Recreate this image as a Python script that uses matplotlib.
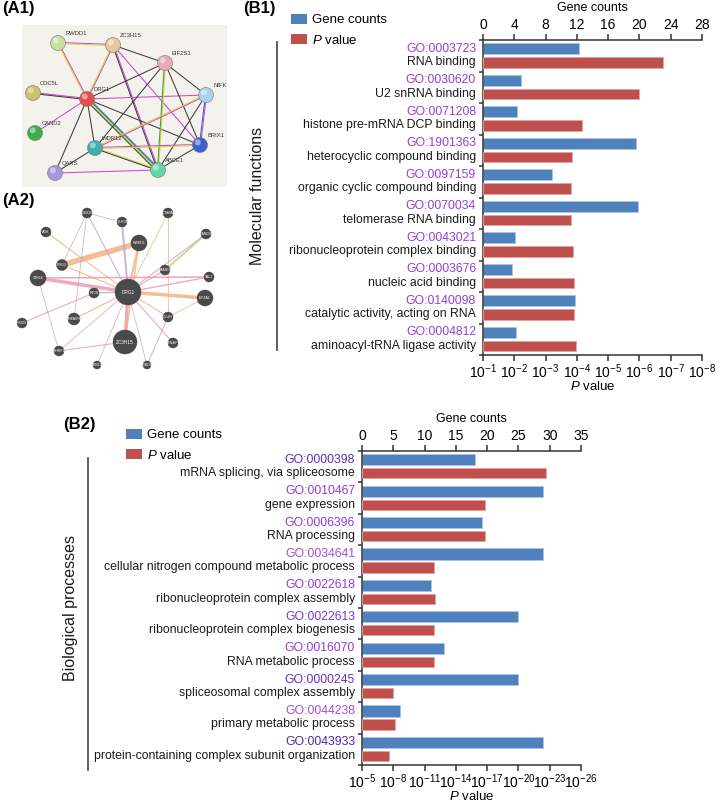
import numpy as np
import matplotlib
matplotlib.use("Agg")
import matplotlib.pyplot as plt
from matplotlib.patches import Rectangle, Circle
from matplotlib.lines import Line2D
from matplotlib.ticker import NullLocator

plt.rcParams['font.family'] = ['Liberation Sans', 'DejaVu Sans']
plt.rcParams['mathtext.fontset'] = 'custom'
plt.rcParams['mathtext.rm'] = 'Liberation Sans'
plt.rcParams['mathtext.it'] = 'Liberation Sans:italic'
plt.rcParams['mathtext.bf'] = 'Liberation Sans:bold'

W, H = 720, 802

# ---------------- data: molecular functions (B1) ----------------
mf_go = ["GO:0003723", "GO:0030620", "GO:0071208", "GO:1901363", "GO:0097159",
         "GO:0070034", "GO:0043021", "GO:0003676", "GO:0140098", "GO:0004812"]
mf_terms = ["RNA binding", "U2 snRNA binding", "histone pre-mRNA DCP binding",
            "heterocyclic compound binding", "organic cyclic compound binding",
            "telomerase RNA binding", "ribonucleoprotein complex binding",
            "nucleic acid binding", "catalytic activity, acting on RNA",
            "aminoacyl-tRNA ligase activity"]
mf_counts = [12.3, 4.9, 4.4, 19.6, 8.8, 19.8, 4.1, 3.7, 11.8, 4.2]
mf_pvalues = [1.8e-7, 1.0e-6, 7.1e-5, 1.45e-4, 1.5e-4, 1.5e-4, 1.35e-4, 1.26e-4, 1.2e-4, 1.1e-4]
mf_count_ticks = [0, 4, 8, 12, 16, 20, 24, 28]
mf_p_ticks = [1e-1, 1e-2, 1e-3, 1e-4, 1e-5, 1e-6, 1e-7, 1e-8]

# ---------------- data: biological processes (B2) ----------------
bp_go = ["GO:0000398", "GO:0010467", "GO:0006396", "GO:0034641", "GO:0022618",
         "GO:0022613", "GO:0016070", "GO:0000245", "GO:0044238", "GO:0043933"]
bp_terms = ["mRNA splicing, via spliceosome", "gene expression", "RNA processing",
            "cellular nitrogen compound metabolic process",
            "ribonucleoprotein complex assembly", "ribonucleoprotein complex biogenesis",
            "RNA metabolic process", "spliceosomal complex assembly",
            "primary metabolic process", "protein-containing complex subunit organization"]
bp_counts = [18.0, 29.0, 19.1, 29.0, 11.0, 25.0, 13.1, 25.0, 6.1, 29.0]
bp_pvalues = [2.5e-23, 1.6e-17, 1.5e-17, 1.2e-12, 1.0e-12, 1.3e-12, 1.3e-12, 1.0e-8, 6.3e-9, 2.8e-8]
bp_count_ticks = [0, 5, 10, 15, 20, 25, 30, 35]
bp_p_ticks = [1e-5, 1e-8, 1e-11, 1e-14, 1e-17, 1e-20, 1e-23, 1e-26]

mf_go_colors = ["#9140d4"] * 10
bp_go_colors = ["#5a2fb8", "#8a3ed6", "#8a3ed6", "#9a55dc", "#8a3ed6",
                "#7a36cc", "#8a3ed6", "#6230c0", "#9a55dc", "#4b2aa8"]

# ---------------- data: STRING network (A1) ----------------
a1_nodes = ["RWDD1", "ZC3H15", "EIF2S1", "CDC5L", "DRG1", "NIFK",
            "CAND2", "WDR12", "BRIX1", "QARS", "ABCE1"]
a1_x = [58, 113, 165, 33, 87, 206, 35, 95, 200, 55, 158]
a1_y = [43, 45, 63, 93, 99, 95, 133, 148, 145, 173, 170]
a1_colors = ["#c6e0a2", "#e6c7a0", "#e8aab4", "#c9c268", "#e0504f", "#a6d4f0",
             "#3fae45", "#3fb0ae", "#3f5fcf", "#a796e2", "#63d6a6"]
a1_src = ["RWDD1", "RWDD1", "ZC3H15", "ZC3H15", "ZC3H15", "ZC3H15", "CDC5L", "DRG1",
          "DRG1", "DRG1", "DRG1", "DRG1", "DRG1", "DRG1", "EIF2S1", "EIF2S1", "EIF2S1",
          "EIF2S1", "NIFK", "NIFK", "NIFK", "WDR12", "WDR12", "WDR12", "QARS", "BRIX1"]
a1_dst = ["ZC3H15", "DRG1", "DRG1", "EIF2S1", "ABCE1", "BRIX1", "DRG1", "NIFK",
          "EIF2S1", "CAND2", "WDR12", "QARS", "ABCE1", "BRIX1", "WDR12", "ABCE1", "BRIX1",
          "NIFK", "WDR12", "BRIX1", "ABCE1", "BRIX1", "ABCE1", "QARS", "ABCE1", "ABCE1"]
a1_kind = ["MY", "MY", "MY", "K", "MK", "M", "MK", "M",
           "K", "M", "K", "K", "BGYK", "K", "K", "YG", "K",
           "K", "MY", "MB", "K", "MY", "YK", "K", "M", "K"]
a1_edge_colors = {"M": "#cc48cc", "Y": "#d6d63c", "K": "#3c3c3c", "B": "#3a5fd8", "G": "#3fa03f"}

# ---------------- data: GeneMANIA network (A2) ----------------
a2_nodes = ["DRG1", "ZC3H15", "RWDD1", "STK16", "EIF4A1", "DDX20", "POLR3F", "KCNMA1",
            "AGK", "CAND2", "DRG2", "SAMD1", "TAL1", "RTCB", "TNFAIP8", "HSCB", "CLUH",
            "RTN4IP1", "PHRF1", "GRB10", "SRBD1"]
a2_x = [128, 125, 139, 38, 205, 87, 122, 168, 46, 206, 62, 165, 209, 94, 74, 22, 168,
        173, 59, 97, 147]
a2_y = [292, 342, 243, 278, 298, 213, 222, 213, 232, 234, 265, 270, 277, 293, 319, 323,
        317, 343, 351, 365, 365]
a2_r = [13, 12, 8, 8, 8, 5, 5, 5, 5, 5, 5.5, 5, 5, 5, 6, 5, 5, 5, 5, 4, 4]
a2_src = ["DRG2", "STK16", "DRG1", "ZC3H15", "RWDD1", "RWDD1", "CAND2", "DDX20", "POLR3F",
          "POLR3F", "KCNMA1", "AGK", "DRG2", "SAMD1", "TAL1", "RTCB", "HSCB", "TNFAIP8",
          "CLUH", "RTN4IP1", "PHRF1", "PHRF1", "GRB10", "SRBD1", "SRBD1", "EIF4A1",
          "STK16", "CAND2", "KCNMA1", "DDX20", "DDX20", "STK16"]
a2_dst = ["RWDD1", "DRG1", "EIF4A1", "DRG1", "DRG1", "ZC3H15", "SAMD1", "DRG1", "DRG1",
          "DDX20", "CLUH", "DRG1", "DRG1", "DRG1", "DRG1", "DRG1", "RTCB", "DRG1",
          "DRG1", "DRG1", "ZC3H15", "DRG1", "DRG1", "DRG1", "CLUH", "CLUH",
          "PHRF1", "DRG1", "DRG1", "DRG2", "TNFAIP8", "TAL1"]
a2_kind = ["O", "P", "O", "P", "O", "O", "G", "L", "L",
           "L", "O", "O", "O", "P", "P", "L", "P", "O",
           "O", "P", "P", "P", "P", "L", "L", "O",
           "L", "P", "O", "L", "L", "P"]
a2_width = [4.0, 2.5, 2.5, 2.5, 1.5, 1.0, 1.5, 0.8, 1.5,
            0.6, 0.6, 0.8, 0.8, 0.8, 1.0, 1.0, 0.8, 0.8,
            0.8, 0.8, 0.8, 0.6, 0.6, 0.6, 0.8, 0.6,
            0.6, 0.8, 0.6, 0.6, 0.6, 1.2]
a2_edge_colors = {"O": "#f2ad7a", "P": "#e897ab", "L": "#bea6d6", "G": "#b7d39d"}

BLUE = "#4f81bd"
RED = "#c0504d"
DARK = "#333333"

fig = plt.figure(figsize=(W / 100, H / 100), dpi=100)


def px_rect(x0, y0, x1, y1):
    return [x0 / W, 1 - y1 / H, (x1 - x0) / W, (y1 - y0) / H]


def fig_xy(x, y):
    return x / W, 1 - y / H


# ---------------- A1 ----------------
ax_a1 = fig.add_axes(px_rect(0, 20, 240, 190))
ax_a1.set_xlim(0, 240)
ax_a1.set_ylim(190, 20)
ax_a1.axis("off")
ax_a1.add_patch(Rectangle((22, 25), 205, 162, facecolor="#f4f2ed", edgecolor="none", zorder=0))
pos1 = {n: (x, y) for n, x, y in zip(a1_nodes, a1_x, a1_y)}
for s, d, k in zip(a1_src, a1_dst, a1_kind):
    p = np.array(pos1[s], float)
    q = np.array(pos1[d], float)
    v = q - p
    nrm = np.array([-v[1], v[0]]) / np.hypot(*v)
    offs = (np.arange(len(k)) - (len(k) - 1) / 2) * 1.1
    for c, o in zip(k, offs):
        ax_a1.plot([p[0] + nrm[0] * o, q[0] + nrm[0] * o], [p[1] + nrm[1] * o, q[1] + nrm[1] * o],
                   color=a1_edge_colors[c], lw=0.75, solid_capstyle="butt", zorder=1)
for n, x, y, c in zip(a1_nodes, a1_x, a1_y, a1_colors):
    ax_a1.add_patch(Circle((x, y), 7.5, facecolor=c, edgecolor="#777777", lw=0.4, zorder=3))
    ax_a1.add_patch(Circle((x - 2.2, y - 2.6), 3.0, facecolor="white", alpha=0.45,
                           edgecolor="none", zorder=4))
    ax_a1.text(x + 7, y - 8, n, fontsize=4.2, color="#333333", zorder=5)

# ---------------- A2 ----------------
ax_a2 = fig.add_axes(px_rect(0, 195, 240, 375))
ax_a2.set_xlim(0, 240)
ax_a2.set_ylim(375, 195)
ax_a2.axis("off")
pos2 = {n: (x, y) for n, x, y in zip(a2_nodes, a2_x, a2_y)}
for s, d, k, w in zip(a2_src, a2_dst, a2_kind, a2_width):
    ax_a2.plot([pos2[s][0], pos2[d][0]], [pos2[s][1], pos2[d][1]],
               color=a2_edge_colors[k], lw=w, alpha=0.8, solid_capstyle="butt", zorder=1)
for n, x, y, r in zip(a2_nodes, a2_x, a2_y, a2_r):
    ax_a2.add_patch(Circle((x, y), r, facecolor="#4a4a4a", edgecolor="#3a3a3a", lw=0.3, zorder=3))
    ax_a2.text(x, y, n, fontsize=2.6 if r < 9 else 3.4, color="white", ha="center",
               va="center", zorder=4)

# ---------------- bar panels ----------------


def bar_panel(rect, go, terms, counts, pvals, cticks, pticks, go_colors):
    n = len(go)
    ax = fig.add_axes(rect)
    ax2 = ax.twiny()
    y = np.arange(n)
    ax.barh(y + 0.28, counts, height=0.36, color=BLUE, edgecolor="#a9c4e6", lw=0.6, zorder=2)
    ax2.set_xscale("log")
    p0 = pticks[0]
    # bar spans from the axis origin (p0) to the p-value
    ax2.barh(y + 0.71, [p0 - p for p in pvals], left=pvals, height=0.33, color=RED,
             edgecolor="#e3a3a1", lw=0.6, zorder=2)
    ax.set_xlim(cticks[0], cticks[-1])
    ax2.set_xlim(pticks[0], pticks[-1])
    ax.set_ylim(n, 0)

    ax.xaxis.tick_top()
    ax.xaxis.set_label_position("top")
    ax.set_xticks(cticks)
    ax.set_xlabel("Gene counts", fontsize=9, labelpad=5)
    ax.tick_params(axis="x", direction="out", length=4, width=1.1, color=DARK,
                   labelsize=10, pad=2)
    ax.set_yticks(np.arange(n + 1))
    ax.set_yticklabels([])
    ax.tick_params(axis="y", direction="out", length=3, width=1.1, color=DARK)
    for s in ["right", "bottom"]:
        ax.spines[s].set_visible(False)
    for s in ["left", "top"]:
        ax.spines[s].set_linewidth(1.1)
        ax.spines[s].set_color(DARK)

    ax2.xaxis.tick_bottom()
    ax2.xaxis.set_label_position("bottom")
    ax2.set_xticks(pticks)
    ax2.xaxis.set_minor_locator(NullLocator())
    ax2.set_xlabel(r"$\it{P}$ value", fontsize=9.5, labelpad=-1)
    ax2.tick_params(axis="x", direction="out", length=4, width=1.1, color=DARK,
                    labelsize=10, pad=1.5)
    for s in ["left", "right", "top"]:
        ax2.spines[s].set_visible(False)
    ax2.spines["bottom"].set_linewidth(1.1)
    ax2.spines["bottom"].set_color(DARK)

    tr = ax.get_yaxis_transform()
    for i in range(n):
        ax.annotate(go[i], xy=(0, i + 0.28), xycoords=tr, xytext=(-5, 0),
                    textcoords="offset points", ha="right", va="center",
                    fontsize=8.8, color=go_colors[i])
        ax.annotate(terms[i], xy=(0, i + 0.71), xycoords=tr, xytext=(-5, 0),
                    textcoords="offset points", ha="right", va="center",
                    fontsize=8.8, color="#1a1a1a")
    return ax, ax2


b1_ax, b1_ax2 = bar_panel(px_rect(483, 40, 702, 355), mf_go, mf_terms, mf_counts, mf_pvalues,
                          mf_count_ticks, mf_p_ticks, mf_go_colors)
b2_ax, b2_ax2 = bar_panel(px_rect(362, 451, 581, 765), bp_go, bp_terms, bp_counts, bp_pvalues,
                          bp_count_ticks, bp_p_ticks, bp_go_colors)

# legends
for ax, (lx, ly) in [(b1_ax, (291, 14)), (b2_ax, (126, 429))]:
    h1 = Rectangle((0, 0), 1, 1, facecolor=BLUE, edgecolor="none")
    h2 = Rectangle((0, 0), 1, 1, facecolor=RED, edgecolor="none")
    fig.legend([h1, h2], ["Gene counts", r"$\it{P}$ value"], loc="upper left",
               bbox_to_anchor=fig_xy(lx, ly), frameon=False, fontsize=9.5,
               handlelength=1.25, handleheight=0.75, handletextpad=0.35,
               labelspacing=0.55, borderpad=0, borderaxespad=0)

# category brackets
fig.add_artist(Line2D([277 / W, 277 / W], [1 - 42 / H, 1 - 350 / H], color="#444444", lw=1.2))
fig.text(*fig_xy(258, 196), "Molecular functions", rotation=90, ha="center", va="center",
         fontsize=11.5, color="#1a1a1a")
fig.add_artist(Line2D([88 / W, 88 / W], [1 - 458 / H, 1 - 770 / H], color="#444444", lw=1.2))
fig.text(*fig_xy(70, 608), "Biological processes", rotation=90, ha="center", va="center",
         fontsize=11.5, color="#1a1a1a")

# panel labels
for lbl, (x, y) in [("(A1)", (2, 8)), ("(A2)", (2, 201)), ("(B1)", (243, 8)), ("(B2)", (63, 425))]:
    fig.text(*fig_xy(x, y), lbl, fontsize=12, fontweight="bold", ha="left", va="center")

fig.savefig("out.png", dpi=100)
